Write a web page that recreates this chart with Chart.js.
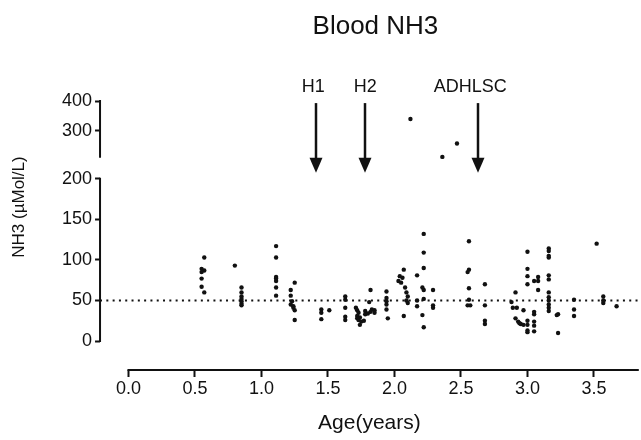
<!DOCTYPE html>
<html>
<head>
<meta charset="utf-8">
<script src="https://cdn.jsdelivr.net/npm/chart.js@4.4.1/dist/chart.umd.min.js"></script>
<style>
html,body{margin:0;padding:0;background:#fff}
</style>
</head>
<body>
<canvas id="nh3Chart" width="641" height="440"></canvas>
<script>

// age (years) and blood NH3 (umol/L)
const ageYears=[
0.57,0.55,0.57,0.55,0.55,0.55,0.57,
0.80,0.85,0.85,0.85,0.85,0.85,0.85,0.85,
1.11,1.11,1.11,1.11,1.11,1.11,1.11,
1.25,1.22,1.22,1.23,1.22,1.24,1.24,1.25,1.25,
1.45,1.45,1.45,1.51,
1.63,1.63,1.63,1.63,1.63,
1.71,1.72,1.73,1.72,1.74,1.72,1.73,1.75,1.74,
1.78,1.78,1.77,
1.82,1.81,1.83,1.82,1.80,1.85,1.85,
1.94,1.94,1.94,1.94,1.94,1.95,
2.07,2.04,2.06,2.03,2.05,2.08,2.09,2.10,2.09,2.10,2.07,
2.17,2.17,2.17,
2.22,2.22,2.22,2.21,2.22,2.22,2.21,2.22,
2.29,2.29,2.29,
2.12,2.36,2.47,
2.56,2.56,2.55,2.56,2.56,2.55,2.57,
2.68,2.68,2.68,2.68,
2.91,2.88,2.89,2.92,2.97,2.91,2.93,2.95,2.97,2.94,
3.00,3.00,3.00,3.00,3.00,3.00,3.00,3.00,
3.05,3.08,3.08,3.08,
3.05,3.05,3.05,3.05,3.05,
3.16,3.16,3.16,3.16,3.16,3.16,3.16,3.16,3.16,3.16,3.16,3.16,
3.23,3.22,3.23,
3.35,3.35,3.35,
3.52,
3.57,3.57,3.57,
3.67
]
const nh3=[
103,89,87,85,77,67,60,
93,66,60,55,52,49,46,44,
117,103,79,77,74,66,56,
72,63,56,49,45,43,41,38,26,
39,35,27,38,
55,51,41,30,26,
41,38,35,31,29,28,26,24,20,
37,33,25,
63,48,39,36,34,38,35,
61,53,49,45,39,28,
88,80,78,74,72,66,60,55,50,47,31,
81,50,43,
132,109,90,66,63,52,32,17,
63,44,41,
340,213,258,
123,88,85,65,51,44,44,
70,44,25,21,
60,48,41,41,38,28,24,21,20,22,
110,89,80,70,25,20,13,11,
74,79,74,63,
36,33,24,19,12,
114,111,105,103,81,76,60,54,50,45,41,37,
33,32,10,
51,39,31,
120,
55,50,47,
43
]

const xTicks=[0,0.5,1,1.5,2,2.5,3,3.5]
const yLowTicks=[0,50,100,150,200]
const yHighTicks=[300,400]
const refLevel=50
const breakAt=200
const upperAxisStart=210

const markerNames=["H1","H2","ADHLSC"]
const markerAge=[1.41,1.78,2.625]
const markerLabelAge=[1.39,1.78,2.57]
const arrowFrom=393
const arrowTo=160

const X_MIN=-0.2137
const X_MAX=3.837

const ink="#111"
const font="'Liberation Sans', Arial, sans-serif"

const lowPts=[]
const highPts=[]
ageYears.forEach((a,i)=>{
if(nh3[i]>breakAt) highPts.push({x:a,y:nh3[i]})
else lowPts.push({x:a,y:nh3[i]})
})

const tickGrid={display:true,drawOnChartArea:false,drawTicks:true,tickLength:5,tickWidth:2,color:ink}

const decor={
id:"decor",
afterDraw(chart){
const {ctx,chartArea}=chart
const x=chart.scales.x
const lo=chart.scales.y
const hi=chart.scales.yTop
ctx.save()
ctx.strokeStyle=ink
ctx.fillStyle=ink
ctx.lineWidth=2

// axis lines, only over the value range like the original
ctx.beginPath()
ctx.moveTo(chartArea.left,lo.getPixelForValue(0)+1)
ctx.lineTo(chartArea.left,lo.getPixelForValue(breakAt)-1)
ctx.moveTo(chartArea.left,hi.getPixelForValue(400)-1)
ctx.lineTo(chartArea.left,hi.getPixelForValue(upperAxisStart))
ctx.moveTo(x.getPixelForValue(0)-1,chartArea.bottom)
ctx.lineTo(chartArea.right,chartArea.bottom)
ctx.stroke()

// arrows + labels
markerAge.forEach((a,i)=>{
const px=Math.round(x.getPixelForValue(a))
const top=hi.getPixelForValue(arrowFrom)
const tip=hi.getPixelForValue(arrowTo)
ctx.lineWidth=2.5
ctx.beginPath()
ctx.moveTo(px,top)
ctx.lineTo(px,tip-12)
ctx.stroke()
ctx.beginPath()
ctx.moveTo(px-6.5,tip-15)
ctx.lineTo(px+6.5,tip-15)
ctx.lineTo(px,tip)
ctx.closePath()
ctx.fill()
ctx.font="18px "+font
ctx.textAlign="center"
ctx.textBaseline="alphabetic"
ctx.fillText(markerNames[i],x.getPixelForValue(markerLabelAge[i]),top-11)
})

// title
ctx.font="26px "+font
ctx.textAlign="center"
ctx.fillText("Blood NH3",(chartArea.left+chartArea.right)/2+6,34)

// y title
ctx.translate(19,207)
ctx.rotate(-Math.PI/2)
ctx.font="17px "+font
ctx.textBaseline="middle"
ctx.fillText("NH3 (µMol/L)",0,0)
ctx.restore()
}
}

new Chart(document.getElementById("nh3Chart"),{
type:"scatter",
data:{datasets:[
{data:lowPts,yAxisID:"y",pointRadius:2.2,pointHoverRadius:2.2,pointBorderWidth:0,pointBackgroundColor:ink},
{data:highPts,yAxisID:"yTop",pointRadius:2.2,pointHoverRadius:2.2,pointBorderWidth:0,pointBackgroundColor:ink},
{type:"line",data:[{x:X_MIN,y:refLevel},{x:X_MAX,y:refLevel}],yAxisID:"y",borderColor:ink,borderWidth:2,borderDash:[2,4.3],pointRadius:0,fill:false}
]},
options:{
responsive:false,
animation:false,
events:[],
layout:{padding:{top:101,left:59,right:0,bottom:0}},
plugins:{legend:{display:false},tooltip:{enabled:false},title:{display:false}},
scales:{
x:{
type:"linear",min:X_MIN,max:X_MAX,bounds:"data",
afterBuildTicks:s=>{s.ticks=xTicks.map(v=>({value:v}))},
grid:{...tickGrid,tickLength:7},
border:{display:false},
ticks:{color:ink,padding:1,font:{family:font,size:18},callback:v=>Number(v).toFixed(1),maxRotation:0,autoSkip:false},
title:{display:true,text:"Age(years)",color:ink,font:{family:font,size:21},padding:{top:10,bottom:4.2}}
},
y:{
type:"linear",position:"left",stack:"nh3",stackWeight:192,min:-35.6,max:200,bounds:"data",
afterBuildTicks:s=>{s.ticks=yLowTicks.map(v=>({value:v}))},
grid:tickGrid,
border:{display:false},
ticks:{color:ink,padding:3,font:{family:font,size:18},autoSkip:false}
},
yTop:{
type:"linear",position:"left",stack:"nh3",stackWeight:78,min:140,max:400,bounds:"data",
afterBuildTicks:s=>{s.ticks=yHighTicks.map(v=>({value:v}))},
grid:tickGrid,
border:{display:false},
ticks:{color:ink,padding:3,font:{family:font,size:18},autoSkip:false}
}
}
},
plugins:[decor]
})

</script>
</body>
</html>
